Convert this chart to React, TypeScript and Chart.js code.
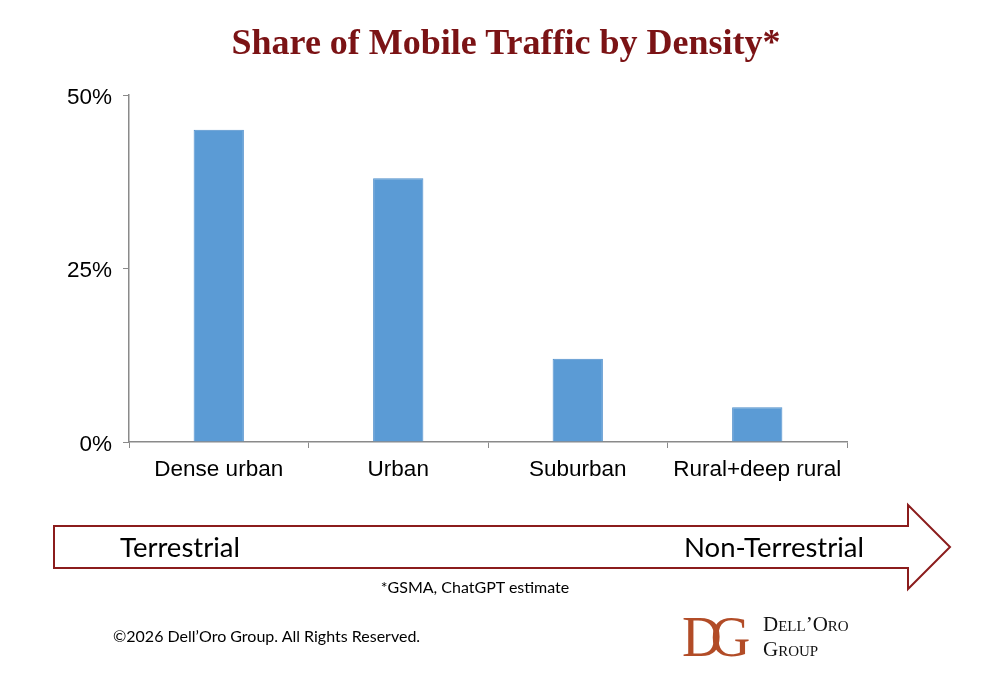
import React, { useEffect, useRef } from "react";
import { Chart, registerables } from "chart.js";

Chart.register(...registerables);

const categories = ["Dense urban", "Urban", "Suburban", "Rural+deep rural"];
const shares = [45, 38, 12, 5];
const yTicks = [0, 25, 50];

const W = 1000;
const H = 683;

const textStyle = (o: React.CSSProperties): React.CSSProperties => ({
  position: "absolute",
  whiteSpace: "nowrap",
  margin: 0,
  ...o,
});

export default function App() {
  const ref = useRef<HTMLCanvasElement | null>(null);

  useEffect(() => {
    if (!ref.current) return;
    const chart = new Chart(ref.current, {
      type: "bar",
      data: {
        labels: categories,
        datasets: [
          {
            data: shares,
            backgroundColor: "#5b9bd5",
            borderColor: "#4f8fcb",
            borderWidth: 1,
            categoryPercentage: 1,
            barPercentage: 0.28,
          },
        ],
      },
      options: {
        responsive: false,
        animation: false,
        devicePixelRatio: 1,
        layout: { padding: { left: 0, top: 95, right: W - 847, bottom: H - 442 - 60 } },
        plugins: { legend: { display: false }, tooltip: { enabled: false }, title: { display: false } },
        scales: {
          x: {
            offset: true,
            grid: {
              offset: true,
              drawOnChartArea: false,
              drawTicks: true,
              tickLength: 6,
              color: "#8a8a8a",
            },
            border: { color: "#8a8a8a", width: 1.5 },
            ticks: {
              color: "#000",
              padding: 8,
              maxRotation: 0,
              font: { family: "'Liberation Sans', Arial, sans-serif", size: 22.5 },
            },
            afterFit: (s: any) => {
              s.height = 60;
            },
          },
          y: {
            min: 0,
            max: 50,
            afterBuildTicks: (s: any) => {
              s.ticks = yTicks.map((v) => ({ value: v }));
            },
            grid: {
              drawOnChartArea: false,
              drawTicks: true,
              tickLength: 6,
              color: "#8a8a8a",
            },
            border: { color: "#8a8a8a", width: 1.5 },
            ticks: {
              color: "#000",
              padding: 11,
              labelOffset: 2.5,
              callback: (v: any) => v + "%",
              font: { family: "'Liberation Sans', Arial, sans-serif", size: 22.5 },
            },
            afterFit: (s: any) => {
              s.width = 129;
            },
          },
        },
      },
    });
    return () => chart.destroy();
  }, []);

  return (
    <div
      style={{
        position: "absolute",
        left: 0,
        top: 0,
        width: W,
        height: H,
        background: "#fff",
        overflow: "hidden",
      }}
    >
      <canvas ref={ref} width={W} height={H} style={{ position: "absolute", left: 0, top: 0, width: W, height: H }} />
      <div
        style={textStyle({
          left: 0,
          width: W,
          top: 20,
          lineHeight: "44px",
          textAlign: "center",
          paddingLeft: 6,
          fontFamily: "'Liberation Serif', 'Times New Roman', serif",
          fontWeight: "bold",
          fontSize: 36,
          color: "#7b1315",
        })}
      >
        Share of Mobile Traffic by Density*
      </div>
      <svg width={W} height={H} style={{ position: "absolute", left: 0, top: 0 }}>
        <polygon
          points="54,526 908,526 908,505 950,547 908,589 908,568 54,568"
          fill="#fff"
          stroke="#8b1c1c"
          strokeWidth={2}
        />
      </svg>
      <div
        style={textStyle({
          left: 120,
          top: 530,
          lineHeight: "34px",
          fontFamily: "Lato, 'Open Sans', sans-serif",
          fontSize: 27.5,
          color: "#000",
        })}
      >
        Terrestrial
      </div>
      <div
        style={textStyle({
          right: W - 864,
          top: 530,
          lineHeight: "34px",
          fontFamily: "Lato, 'Open Sans', sans-serif",
          fontSize: 27.5,
          color: "#000",
        })}
      >
        Non-Terrestrial
      </div>
      <div
        style={textStyle({
          left: 375,
          width: 200,
          top: 576,
          lineHeight: "22px",
          textAlign: "center",
          fontFamily: "Lato, 'Open Sans', sans-serif",
          fontSize: 16,
          color: "#000",
        })}
      >
        *GSMA, ChatGPT estimate
      </div>
      <div
        style={textStyle({
          left: 113,
          top: 625,
          lineHeight: "22px",
          fontFamily: "Lato, 'Open Sans', sans-serif",
          fontSize: 16,
          color: "#000",
        })}
      >
        ©2026 Dell’Oro Group. All Rights Reserved.
      </div>
      <div
        style={textStyle({
          left: 682,
          top: 610,
          lineHeight: "54px",
          fontFamily: "'Liberation Serif', 'Times New Roman', serif",
          fontSize: 58,
          color: "#b24c27",
          letterSpacing: -12,
          transform: "scaleX(0.95)",
          transformOrigin: "left center",
        })}
      >
        DG
      </div>
      <div
        style={textStyle({
          left: 763,
          top: 612,
          lineHeight: "25px",
          fontFamily: "'Liberation Serif', 'Times New Roman', serif",
          fontSize: 21,
          fontVariant: "small-caps",
          color: "#111",
        })}
      >
        Dell’Oro
        <br />
        Group
      </div>
    </div>
  );
}
